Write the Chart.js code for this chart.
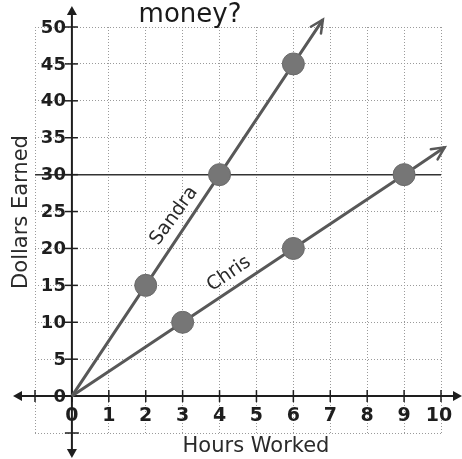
<!DOCTYPE html>
<html>
<head>
<meta charset="utf-8">
<script src="https://cdn.jsdelivr.net/npm/chart.js@4/dist/chart.umd.min.js"></script>
<style>
  html, body { margin: 0; padding: 0; background: #fff; }
  #wrap { width: 462px; height: 459px; }
</style>
</head>
<body>
<div id="wrap"><canvas id="c" width="462" height="459"></canvas></div>
<script>
// ---- data ----
const sandraHours   = [0, 2, 4, 6, 6.8];
const sandraDollars = [0, 15, 30, 45, 51];
const chrisHours    = [0, 3, 6, 9, 10.1];
const chrisDollars  = [0, 10, 20, 30, 33.7];
const xTickLabels = ['0', '1', '2', '3', '4', '5', '6', '7', '8', '9', '10'];
const xTickValues = [0, 1, 2, 3, 4, 5, 6, 7, 8, 9, 10];
const yTickLabels = ['0', '5', '10', '15', '20', '25', '30', '35', '40', '45', '50'];
const yTickValues = [0, 5, 10, 15, 20, 25, 30, 35, 40, 45, 50];
const titleText = 'money?';
const xTitle = 'Hours Worked';
const yTitle = 'Dollars Earned';
const seriesNames = ['Sandra', 'Chris'];

function pts(xs, ys) { return xs.map((x, i) => ({ x: x, y: ys[i] })); }

const INK = '#1e1e1e';
const LINE = '#585858';

const decor = {
  id: 'decor',
  beforeDatasetsDraw(chart) {
    const ctx = chart.ctx;
    const xs = chart.scales.x, ys = chart.scales.y;
    const x0 = xs.getPixelForValue(0), y0 = ys.getPixelForValue(0);
    ctx.save();
    ctx.strokeStyle = INK;
    ctx.fillStyle = INK;
    ctx.lineWidth = 2;
    // x axis
    const xl = xs.left - 20, xr = xs.right + 19;
    ctx.beginPath(); ctx.moveTo(xl, y0); ctx.lineTo(xr, y0); ctx.stroke();
    // y axis
    const yt = ys.top - 19, yb = ys.bottom + 23;
    ctx.beginPath(); ctx.moveTo(x0, yt); ctx.lineTo(x0, yb); ctx.stroke();
    // arrowheads on axes (filled)
    function tri(px, py, dx, dy) {
      const L = 9, W = 5;
      const nx = -dy, ny = dx;
      ctx.beginPath();
      ctx.moveTo(px, py);
      ctx.lineTo(px - dx * L + nx * W, py - dy * L + ny * W);
      ctx.lineTo(px - dx * L - nx * W, py - dy * L - ny * W);
      ctx.closePath(); ctx.fill();
    }
    tri(xl - 2, y0, -1, 0);
    tri(xr + 2, y0, 1, 0);
    tri(x0, yt - 2, 0, -1);
    tri(x0, yb + 2, 0, 1);
    // x tick marks
    ctx.lineWidth = 1.5;
    [-1].concat(xTickValues).forEach(v => {
      const px = xs.getPixelForValue(v);
      ctx.beginPath(); ctx.moveTo(px, y0 - 6); ctx.lineTo(px, y0 + 6); ctx.stroke();
    });
    // y tick marks
    yTickValues.forEach(v => {
      const py = ys.getPixelForValue(v);
      ctx.beginPath(); ctx.moveTo(x0 - 7, py); ctx.lineTo(x0 + 6, py); ctx.stroke();
    });
    ctx.beginPath(); ctx.moveTo(x0 - 7, ys.getPixelForValue(-5)); ctx.lineTo(x0 + 7, ys.getPixelForValue(-5)); ctx.stroke();

    // tick labels
    ctx.font = 'bold 18px "DejaVu Sans"';
    ctx.textAlign = 'right'; ctx.textBaseline = 'middle';
    yTickValues.forEach((v, i) => {
      ctx.fillText(yTickLabels[i], x0 - 6, ys.getPixelForValue(v) + 1);
    });
    ctx.font = 'bold 19px "DejaVu Sans"';
    ctx.textAlign = 'center'; ctx.textBaseline = 'middle';
    xTickValues.forEach((v, i) => {
      ctx.fillText(xTickLabels[i], xs.getPixelForValue(v) - (v === 10 ? 2 : 0), y0 + 20);
    });

    // titles
    ctx.fillStyle = '#1a1a1a';
    ctx.font = '26px "DejaVu Sans"';
    ctx.textAlign = 'center'; ctx.textBaseline = 'alphabetic';
    ctx.fillText(titleText, 190, 22);
    ctx.fillStyle = '#2a2a2a';
    ctx.font = '21px "DejaVu Sans"';
    ctx.fillText(xTitle, 256, 452);
    ctx.save();
    ctx.translate(27, 212);
    ctx.rotate(-Math.PI / 2);
    ctx.fillText(yTitle, 0, 0);
    ctx.restore();

    // series labels
    ctx.font = '19px "DejaVu Sans"';
    ctx.textBaseline = 'middle';
    ctx.save();
    ctx.translate(174, 216); ctx.rotate(-54 * Math.PI / 180);
    ctx.fillText(seriesNames[0], 0, 0);
    ctx.restore();
    ctx.save();
    ctx.translate(229, 274); ctx.rotate(-34 * Math.PI / 180);
    ctx.fillText(seriesNames[1], 0, 0);
    ctx.restore();
    ctx.restore();
  },
  afterDatasetsDraw(chart) {
    const ctx = chart.ctx;
    ctx.save();
    ctx.strokeStyle = LINE; ctx.lineWidth = 2.5; ctx.lineCap = 'round';
    chart.data.datasets.forEach((ds, di) => {
      const meta = chart.getDatasetMeta(di);
      const n = meta.data.length;
      const a = meta.data[n - 2], b = meta.data[n - 1];
      const ang = Math.atan2(b.y - a.y, b.x - a.x);
      const L = 14, spread = 0.45;
      ctx.beginPath();
      ctx.moveTo(b.x - L * Math.cos(ang - spread), b.y - L * Math.sin(ang - spread));
      ctx.lineTo(b.x, b.y);
      ctx.lineTo(b.x - L * Math.cos(ang + spread), b.y - L * Math.sin(ang + spread));
      ctx.stroke();
    });
    ctx.restore();
  }
};

function radiusFn(c) {
  const n = c.dataset.data.length;
  return (c.dataIndex === 0 || c.dataIndex === n - 1) ? 0 : 11;
}

function series(name, xs, ys) {
  return {
    label: name,
    data: pts(xs, ys),
    showLine: true,
    borderColor: LINE,
    backgroundColor: '#747474',
    borderWidth: 3,
    pointRadius: radiusFn,
    pointBackgroundColor: '#767676',
    pointBorderColor: '#6a6a6a',
    pointBorderWidth: 1,
    clip: false
  };
}

new Chart(document.getElementById('c'), {
  type: 'scatter',
  data: {
    datasets: [
      series(seriesNames[0], sandraHours, sandraDollars),
      series(seriesNames[1], chrisHours, chrisDollars)
    ]
  },
  options: {
    responsive: false,
    animation: false,
    devicePixelRatio: 1,
    layout: { padding: { left: 35, right: 21, top: 27, bottom: 26 } },
    plugins: {
      legend: { display: false }, tooltip: { enabled: false }, title: { display: false },
      colors: { enabled: false }
    },
    scales: {
      x: {
        type: 'linear', min: -1, max: 10,
        ticks: { display: false, stepSize: 1 },
        grid: { drawTicks: false, color: '#9a9a9a', lineWidth: 1 },
        border: { display: false, dash: [1, 2] }
      },
      y: {
        type: 'linear', min: -5, max: 50,
        ticks: { display: false, stepSize: 5 },
        grid: {
          drawTicks: false,
          color: c => (c.tick && c.tick.value === 30) ? '#333' : '#9a9a9a',
          lineWidth: c => (c.tick && c.tick.value === 30) ? 1.5 : 1
        },
        border: { display: false, dash: c => (c.tick && c.tick.value === 30) ? [] : [1, 2] }
      }
    }
  },
  plugins: [decor]
});
</script>
</body>
</html>
